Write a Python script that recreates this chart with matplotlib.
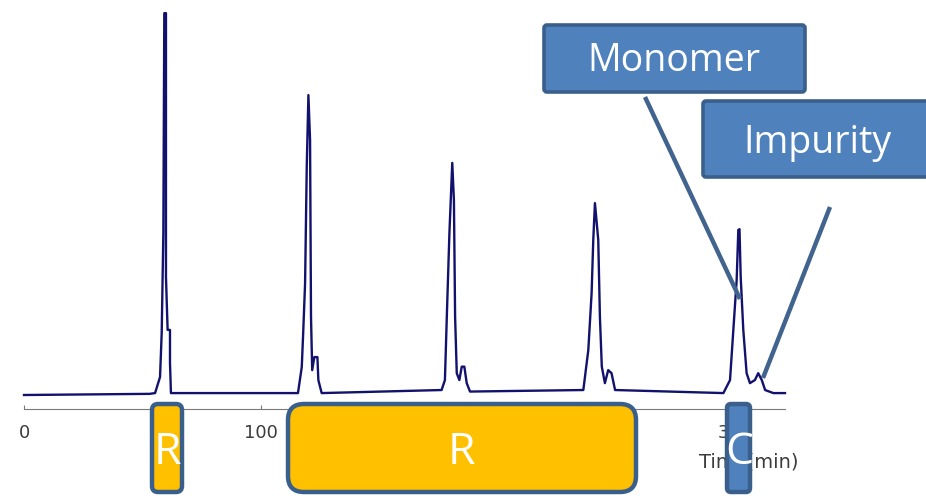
import matplotlib
matplotlib.use('Agg')
import matplotlib.pyplot as plt
from matplotlib.patches import FancyBboxPatch

# chromatogram trace: time (min) and response (peak 1 = 100)
time_min = [0, 53, 55.3, 57.4, 58.1, 58.8, 59.2, 59.9, 59.9, 60.6, 61.6, 61.6, 62.0,
            115.6, 117.2, 117.8, 118.6, 119.3, 120.0, 120.7, 121.1, 121.6, 122.5, 123.8, 124.2, 125.6,
            176.2, 177.6, 178.4, 179.5, 180.7, 181.4, 181.9, 182.6, 183.7, 184.7, 185.8, 186.8, 188.2,
            236.0, 238.1, 239.5, 240.2, 240.9, 242.3, 243.0, 243.8, 245.1, 246.5, 247.9, 249.4,
            295.1, 297.9, 299.3, 300.7, 301.4, 301.9, 302.4, 303.5, 304.9, 306.3, 308.4, 309.8,
            311.3, 312.7, 316.2, 321.1]
response = [0, 0.3, 0.5, 4.7, 16.2, 42.3, 99.7, 99.7, 30.8, 17.0, 17.0, 8.4, 0.5,
            0.5, 7.3, 16.2, 29.2, 59.5, 78.3, 66.6, 20.4, 6.5, 9.9, 9.9, 3.9, 0.5,
            1.3, 3.9, 20.4, 42.3, 60.6, 50.9, 20.4, 5.7, 3.9, 7.4, 7.4, 3.1, 0.9,
            1.3, 11.7, 26.6, 40.5, 50.1, 40.5, 20.4, 7.4, 3.1, 6.5, 5.7, 1.3,
            0.5, 3.9, 17.0, 30.0, 43.1, 43.3, 30.9, 17.0, 5.7, 3.1, 3.9, 5.7,
            3.9, 1.3, 0.5, 0.5]

x_ticks = [0, 100, 200, 300]
x_tick_labels = ['0', '100', '200', '300']
x_label = 'Time(min)'

callout_labels = ['Monomer', 'Impurity']
step_labels = ['R', 'R', 'C']

fig = plt.figure(figsize=(9.26, 4.96), dpi=100)
fig.patch.set_facecolor('white')

# main chromatogram axes: 0 min at 24 px, 100 min at 261 px; baseline at 395 px
px_per_min = 2.37
px_per_unit = 3.83
ax = fig.add_axes([0, 0, 1, 1])
ax.set_xlim(-24 / px_per_min, (926 - 24) / px_per_min)
ax.set_ylim((395 - 496) / px_per_unit, 395 / px_per_unit)
ax.patch.set_visible(False)

ax.plot(time_min, response, color='#12126e', lw=1.7, solid_joinstyle='round')

for s in ['top', 'right', 'left']:
    ax.spines[s].set_visible(False)
ax.spines['bottom'].set_position(('data', (395 - 409) / px_per_unit))
ax.spines['bottom'].set_bounds(0, 321)
ax.spines['bottom'].set_color('#7a7a7a')
ax.set_yticks([])
ax.set_xticks(x_ticks)
ax.set_xticklabels(x_tick_labels)
ax.tick_params(axis='x', direction='in', length=3, color='#7a7a7a',
               labelsize=13, labelcolor='#3c3c3c', pad=11)
ax.set_xlabel(x_label, fontsize=14, color='#3c3c3c')
ax.xaxis.set_label_coords(749 / 926, 1 - 452 / 496)

# overlay in pixel units for the callouts and process-step boxes
ov = fig.add_axes([0, 0, 1, 1], zorder=3)
ov.set_xlim(0, 926)
ov.set_ylim(496, 0)
ov.axis('off')
ov.patch.set_visible(False)

blue = '#4f81bd'
blue_edge = '#3a5f8b'
orange = '#ffc000'

def box(x0, y0, x1, y1, face, r, lw):
    ov.add_patch(FancyBboxPatch((x0, y0), x1 - x0, y1 - y0,
                                boxstyle='round,pad=0,rounding_size=%g' % r,
                                fc=face, ec=blue_edge, lw=lw))

# callout lines
ov.plot([645, 740], [97, 299], color='#41648f', lw=3.2, solid_capstyle='butt')
ov.plot([830, 763], [207, 378], color='#41648f', lw=3.2, solid_capstyle='butt')

box(544, 25, 805, 92, blue, 3, 2.6)
ov.text(674, 61, callout_labels[0], fontsize=27, family='Open Sans', color='white',
        ha='center', va='center')
box(703, 101, 940, 177, blue, 3, 2.6)
ov.text(817, 143, callout_labels[1], fontsize=27, family='Open Sans', color='white',
        ha='center', va='center')

# process step boxes under the axis
box(152, 404, 182, 492, orange, 6, 3.2)
box(288, 404, 636, 492, orange, 16, 3.2)
box(727, 404, 750, 492, blue, 4, 3.2)
for xc, lab in zip([167.5, 461, 739], step_labels):
    ov.text(xc, 453, lab, fontsize=32, family='Open Sans', color='white',
            ha='center', va='center')

fig.savefig('out.png', dpi=100)
